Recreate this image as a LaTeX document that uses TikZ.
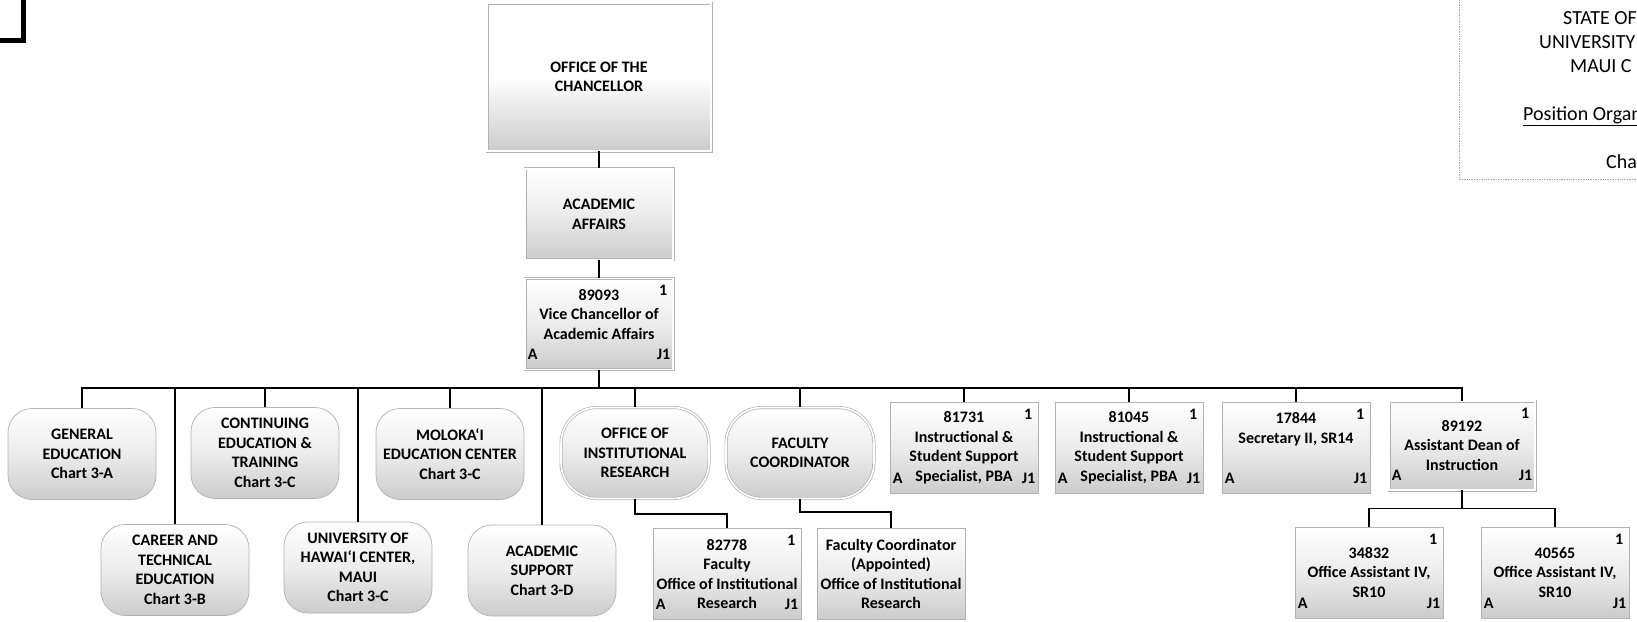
\documentclass[tikz,border=0pt]{standalone}
\usepackage{fontspec}
\setmainfont{Carlito}
\usepackage{tikz}
\usetikzlibrary{positioning,calc}

\begin{document}
\begin{tikzpicture}[x=1pt,y=-1pt,font=\fontsize{16}{19.5}\selectfont\bfseries,inner sep=1pt,
  posbox/.style={draw=gray!60,line width=0.7pt,top color=white,bottom color=gray!40,middle color=gray!15,
    minimum width=148pt,minimum height=91pt,align=center},
  dposbox/.style={posbox,double,double distance=1.6pt},
  orgunit/.style={posbox,rounded corners=24pt},
  ovalunit/.style={dposbox,rounded corners=36pt},
  tagtext/.style={inner sep=0pt},
  linkline/.style={line width=1.6pt},
  headtext/.style={font=\fontsize{20}{24}\selectfont,inner sep=0pt,anchor=base west}]
  \useasboundingbox (0,0) rectangle (1637,621);
  \clip (0,0) rectangle (1637,621);
  \draw[line width=5pt] (-10,40.5) -| (23.5,-10);
  \node[dposbox,minimum width=224pt,minimum height=148pt,middle color=white] (chan) at (599,77) {OFFICE OF THE\\CHANCELLOR};
  \node[dposbox,below=17pt of chan] (acad) {ACADEMIC\\AFFAIRS};
  \node[dposbox,below=18pt of acad] (vc) {89093\\Vice Chancellor of\\Academic Affairs\\~};
  \coordinate (bus) at (599,388);
  \node[orgunit] (gened) at (82,454) {GENERAL\\EDUCATION\\Chart 3-A};
  \node[orgunit] (contin) at (265,453) {CONTINUING\\EDUCATION \&\\TRAINING\\Chart 3-C};
  \node[orgunit] (molokai) at (450,454) {MOLOKA‘I\\EDUCATION CENTER\\Chart 3-C};
  \node[ovalunit] (oir) at (635,453) {OFFICE OF\\INSTITUTIONAL\\RESEARCH};
  \node[ovalunit] (faccoord) at (800,453) {FACULTY\\COORDINATOR};
  \node[posbox] (p81731) at (964,447.5) {81731\\Instructional \&\\Student Support\\Specialist, PBA};
  \node[posbox] (p81045) at (1129,447.5) {81045\\Instructional \&\\Student Support\\Specialist, PBA};
  \node[posbox] (p17844) at (1296,447.5) {17844\\Secretary II, SR14\\~\\~};
  \node[dposbox,minimum width=146pt,minimum height=89pt] (p89192) at (1462,445.5) {89192\\Assistant Dean of\\Instruction};
  \node[orgunit] (career) at (175,570) {CAREER AND\\TECHNICAL\\EDUCATION\\Chart 3-B};
  \node[orgunit] (uhmaui) at (358,567.5) {UNIVERSITY OF\\HAWAI‘I CENTER,\\MAUI\\Chart 3-C};
  \node[orgunit] (acsupport) at (542,570.5) {ACADEMIC\\SUPPORT\\Chart 3-D};
  \node[posbox] (p82778) at (727,574) {82778\\Faculty\\Office of Institutional\\Research};
  \node[posbox] (fcappt) at (891,574) {Faculty Coordinator\\(Appointed)\\Office of Institutional\\Research};
  \node[posbox] (p34832) at (1369,572.5) {34832\\Office Assistant IV,\\SR10};
  \node[posbox] (p40565) at (1555,572.5) {40565\\Office Assistant IV,\\SR10};
  \foreach \b in {vc,p81731,p81045,p17844,p89192,p82778,p34832,p40565} {
    \node[tagtext,anchor=north east] (\b-n) at ([shift={(-6,7)}]\b.north east) {1};
    \node[tagtext,anchor=base west] (\b-a) at ([shift={(3,-10)}]\b.south west) {A};
    \node[tagtext,anchor=base east] (\b-j) at ([shift={(-3,-10)}]\b.south east) {J1};
  }
  \draw[linkline] (chan) -- (acad);
  \draw[linkline] (acad) -- (vc);
  \draw[linkline] (vc) -- (bus);
  \foreach \c in {gened,contin,molokai,oir,faccoord,p81731,p81045,p17844,p89192,career,uhmaui,acsupport}
    \draw[linkline] (bus) -| (\c.north);
  \draw[linkline] (oir.south) -- ++(0,15) -| (p82778.north);
  \draw[linkline] (faccoord.south) -- ++(0,13) -| (fcappt.north);
  \draw[linkline] (p89192.south) -- ++(0,18) -| (p34832.north);
  \draw[linkline] (p89192.south) -- ++(0,18) -| (p40565.north);
  \draw[gray!70,densely dotted,line width=0.7pt] (1459,-5) |- (1650,179);
  \node[headtext] (t1) at (1563,24.5) {STATE OF};
  \node[headtext] (t2) at (1539,48.5) {UNIVERSITY};
  \node[headtext] (t3) at (1570,72.5) {MAUI C};
  \node[headtext] (t4) at (1523,120.5) {\underline{Position Organ}};
  \node[headtext] (t5) at (1606,168.5) {Cha};
\end{tikzpicture}
\end{document}
